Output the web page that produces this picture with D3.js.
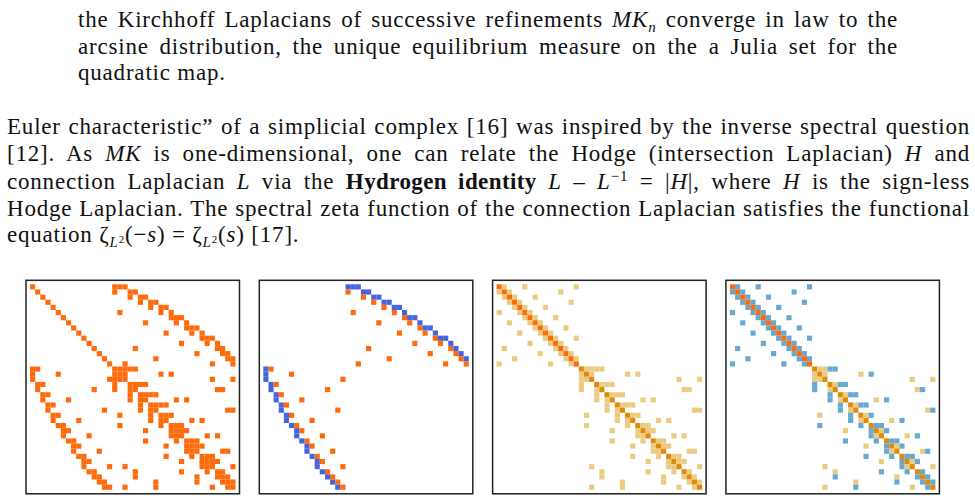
<!DOCTYPE html>
<html>
<head>
<meta charset="utf-8">
<script src="https://cdn.jsdelivr.net/npm/d3@7"></script>
<style>
  body { margin: 0; background: #fff; }
  svg text { font-family: "Liberation Serif", "Times New Roman", serif; fill: #111; }
</style>
</head>
<body>
<script>
const nVertices = 16;
const edgeTail = [0, 0, 0, 1, 1, 2, 2, 3, 3, 4, 4, 5, 6, 6, 7, 8, 8, 9, 10, 10, 11, 12, 13, 14];
const edgeHead = [1, 5, 15, 2, 12, 3, 7, 4, 14, 5, 9, 6, 7, 11, 8, 9, 13, 10, 11, 15, 12, 13, 14, 15];

// value -> colour for each panel
const panelNames = ['L', 'D', 'absH', 'H'];
const colourL = { '1': '#ff6a0a' };
const colourD = { '1': '#ff6a0a', '-1': '#4565e0' };
const colourAbsH = { '3': '#ff6a0a', '2': '#e08a0c', '1': '#ebcb80' };
const colourH = { '3': '#ff6a0a', '2': '#e08a0c', '1': '#ebcb80', '-1': '#66a9d2' };

// paper text around the figure
const para1 = [
  [['the Kirchhoff Laplacians of successive refinements '], ['MK', 'i'], ['n', 'sub'], [' converge in law to the', 'up']],
  [['arcsine distribution, the unique equilibrium measure on the a Julia set for the']],
  [['quadratic map.']]
];
const para2 = [
  [['Euler characteristic\u201d of a simplicial complex [16] was inspired by the inverse spectral question']],
  [['[12]. As '], ['MK', 'i'], [' is one-dimensional, one can relate the Hodge (intersection Laplacian) '], ['H', 'i'], [' and']],
  [['connection Laplacian '], ['L', 'i'], [' via the '], ['Hydrogen identity', 'b'], [' '], ['L', 'i'], [' \u2013 '], ['L', 'i'], ['\u22121', 'sup'], [' = |', 'down'], ['H', 'i'], ['|, where '], ['H', 'i'], [' is the sign-less']],
  [['Hodge Laplacian. The spectral zeta function of the connection Laplacian satisfies the functional']],
  [['equation \u03b6'], ['L', 'sub'], ['2', 'subsup'], ['(\u2212', 'up2'], ['s', 'i'], [') = \u03b6'], ['L', 'sub'], ['2', 'subsup'], ['(', 'up2'], ['s', 'i'], [') [17].']]
];
const para1Widths = [820, 820, null];
const para2Widths = [963, 963, 963, 963, null];
const para1Baselines = [27, 53.5, 80];
const para2Baselines = [134, 160.5, 189, 215.5, 242];

const width = 975, height = 500;
const svg = d3.select('body').append('svg')
  .attr('width', width)
  .attr('height', height);

// ---- text, justified with word spacing like TeX ----
function writeLines(lines, widths, baselines, x) {
  lines.forEach((parts, i) => {
    const t = svg.append('text')
      .attr('x', x)
      .attr('y', baselines[i])
      .attr('font-size', 23)
      .attr('letter-spacing', 0.8);
    parts.forEach(([s, kind]) => {
      const ts = t.append('tspan').text(s);
      if (kind === 'i') ts.attr('font-style', 'italic');
      if (kind === 'b') ts.attr('font-weight', 'bold').attr('letter-spacing', 0.4);
      if (kind === 'sub') ts.attr('font-style', 'italic').attr('font-size', 15).attr('dy', 5);
      if (kind === 'sup') ts.attr('font-size', 15).attr('dy', -8);
      if (kind === 'up') ts.attr('dy', -5);
      if (kind === 'down') ts.attr('dy', 8);
      if (kind === 'subsup') ts.attr('font-size', 11).attr('dy', -4);
      if (kind === 'up2') ts.attr('dy', -1);
    });
    if (widths[i]) {
      const natural = t.node().getComputedTextLength();
      const spaces = parts.map(p => p[0]).join('').split(' ').length - 1;
      t.attr('word-spacing', (widths[i] - natural) / spaces);
    }
  });
}
writeLines(para1, para1Widths, para1Baselines, 78);
writeLines(para2, para2Widths, para2Baselines, 7);

// ---- matrices ----
const nEdges = edgeTail.length;
const n = nVertices + nEdges;
const simplices = d3.range(nVertices).map(v => [v])
  .concat(d3.range(nEdges).map(k => [edgeTail[k], edgeHead[k]]));

const zeros = () => d3.range(n).map(() => new Array(n).fill(0));

// connection Laplacian: 1 where simplices intersect
const L = zeros();
simplices.forEach((a, i) => simplices.forEach((b, j) => {
  if (a.some(v => b.includes(v))) L[i][j] = 1;
}));

// Dirac operator d + d*
const D = zeros();
d3.range(nEdges).forEach(k => {
  const e = nVertices + k;
  D[edgeTail[k]][e] = -1; D[e][edgeTail[k]] = -1;
  D[edgeHead[k]][e] = 1; D[e][edgeHead[k]] = 1;
});

// Hodge Laplacian H = D^2 and its sign-less version
const H = zeros();
for (let i = 0; i < n; i++)
  for (let j = 0; j < n; j++)
    H[i][j] = d3.sum(d3.range(n), k => D[i][k] * D[k][j]);
const absH = H.map(r => r.map(Math.abs));

const panels = [
  { m: L, colour: colourL },
  { m: D, colour: colourD },
  { m: absH, colour: colourAbsH },
  { m: H, colour: colourH }
];

const panelX = d3.scaleBand()
  .domain(d3.range(panels.length))
  .range([26, 939.4])
  .paddingInner(0.085);
const frameTop = 280.3;
const pad = 4;

panels.forEach((p, pi) => {
  const fx = panelX(pi), fw = panelX.bandwidth();
  const g = svg.append('g').attr('class', 'panel ' + panelNames[pi]);
  const cell = d3.scaleBand().domain(d3.range(n));
  const cx = cell.copy().range([fx + pad, fx + fw - pad]);
  const cy = cell.copy().range([frameTop + pad, frameTop + fw - pad]);

  const cells = [];
  p.m.forEach((row, i) => row.forEach((v, j) => {
    if (v !== 0) cells.push({ i, j, v });
  }));

  g.selectAll('rect.cell')
    .data(cells)
    .join('rect')
    .attr('class', 'cell')
    .attr('x', d => cx(d.j))
    .attr('y', d => cy(d.i))
    .attr('width', cx.bandwidth())
    .attr('height', cy.bandwidth())
    .attr('fill', d => p.colour[String(d.v)] || '#ccc');

  g.append('rect')
    .attr('x', fx)
    .attr('y', frameTop)
    .attr('width', fw)
    .attr('height', fw)
    .attr('fill', 'none')
    .attr('stroke', '#222')
    .attr('stroke-width', 1.5);
});
</script>
</body>
</html>
